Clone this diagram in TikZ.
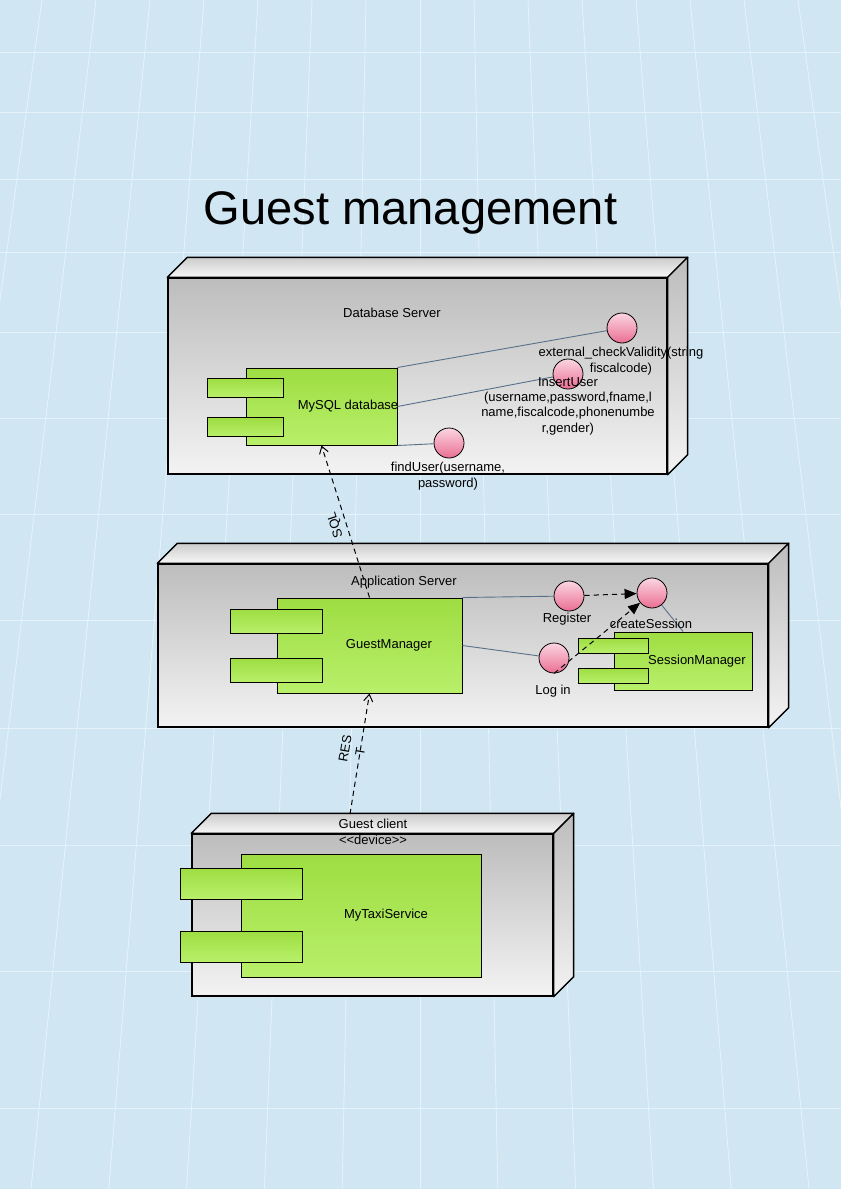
\documentclass[tikz,border=0pt]{standalone}
\usepackage{fontspec}
\setmainfont{Liberation Sans}
\usetikzlibrary{arrows.meta}

\definecolor{paper}{RGB}{208,230,242}
\definecolor{gridcol}{RGB}{230,242,249}
\definecolor{facedark}{RGB}{189,189,189}
\definecolor{facelight}{RGB}{243,243,243}
\definecolor{greentop}{RGB}{158,221,66}
\definecolor{greenbot}{RGB}{184,240,106}
\definecolor{pinktop}{RGB}{251,214,226}
\definecolor{pinkbot}{RGB}{234,110,148}
\definecolor{wirecol}{RGB}{88,112,138}

\newcommand{\boxfaces}[1]{%
  \path[topface] (#1.north west) -- ++(20,-20) -- ([shift={(20,-20)}]#1.north east) -- (#1.north east) -- cycle;
  \path[sideface] (#1.north east) -- ([shift={(20,-20)}]#1.north east) -- ([shift={(20,-20)}]#1.south east) -- (#1.south east) -- cycle;
}

\begin{document}
\begin{tikzpicture}[x=0.05cm, y=-0.05cm,
  gridline/.style={draw=gridcol, line width=0.45mm},
  server/.style={draw, line width=0.7mm, top color=facedark, bottom color=facelight, inner sep=0pt},
  topface/.style={draw, line width=0.7mm, line join=round, top color=gray!40, bottom color=gray!6},
  sideface/.style={draw, line width=0.7mm, line join=round, top color=facedark, bottom color=facelight},
  component/.style={draw, line width=0.5mm, top color=greentop, bottom color=greenbot, inner sep=0pt},
  iface/.style={draw, circle, line width=0.4mm, top color=pinktop, bottom color=pinkbot, minimum size=15mm, inner sep=0pt},
  txt/.style={font=\fontsize{18.5}{21.8}\selectfont, inner sep=0pt, align=center},
  wire/.style={draw=wirecol, line width=0.45mm},
  depend/.style={line width=0.5mm, dash pattern=on 2.6mm off 2mm, -{Straight Barb[length=3.5mm,width=4.5mm]}},
  invoke/.style={line width=0.5mm, dash pattern=on 2.6mm off 2mm, -{Triangle[length=6mm,width=5mm]}}
  ]
	\useasboundingbox (0,0) rectangle (841,1189);
	\fill[paper] (0,0) rectangle (841,1189);
	\begin{scope}
		\clip (0,0) rectangle (841,1189);
		\foreach \gy in {52,112,179,252,332,418,514,620,728,845,971,1108}
			\draw[gridline] (0,\gy) -- (841,\gy);
		\foreach \k in {-8,...,8}
			\draw[gridline] ({420+54*\k},0) -- ({420+77.8*\k},1189);
	\end{scope}

	\node[font=\fontsize{67}{80}\selectfont, anchor=base] (title) at (410.5,224) {Guest management};

	\node[server, minimum width=249.5mm, minimum height=98mm] (db) at (417.5,376) {};
	\boxfaces{db}
	\node[server, minimum width=305mm, minimum height=81.5mm] (app) at (463,645.5) {};
	\boxfaces{app}
	\node[server, minimum width=180.5mm, minimum height=81mm] (gc) at (372.5,915) {};
	\boxfaces{gc}

	\node[txt] (dblbl) at (392,313) {Database Server};
	\node[txt] (applbl) at (404,582) {Application Server};
	\node[txt] (gclbl) at (373,832) {Guest client\\<{}<device>{}>};

	\node[component, minimum width=75.5mm, minimum height=38.5mm,
	  label={[txt, xshift=13.25mm]center:MySQL database}] (mysql) at (321.5,406.5) {};
	\node[component, minimum width=38mm, minimum height=9.5mm] (mysqlp1) at (245,387.5) {};
	\node[component, minimum width=38mm, minimum height=9.5mm] (mysqlp2) at (245,427) {};

	\node[component, minimum width=92.5mm, minimum height=47.5mm,
	  label={[txt, xshift=9.75mm]center:GuestManager}] (gm) at (369.5,645.5) {};
	\node[component, minimum width=46mm, minimum height=12mm] (gmp1) at (276.5,621) {};
	\node[component, minimum width=46mm, minimum height=12mm] (gmp2) at (276.5,670) {};

	\node[component, minimum width=69mm, minimum height=29mm,
	  label={[txt, xshift=7mm]center:SessionManager}] (sm) at (683,661) {};
	\node[component, minimum width=35mm, minimum height=7.5mm] (smp1) at (613.5,645.5) {};
	\node[component, minimum width=35mm, minimum height=7.5mm] (smp2) at (613.5,675.5) {};

	\node[component, minimum width=120.5mm, minimum height=61.5mm,
	  label={[txt, xshift=12.25mm]center:MyTaxiService}] (taxi) at (361.5,915.5) {};
	\node[component, minimum width=61mm, minimum height=15.5mm] (taxip1) at (241,883.5) {};
	\node[component, minimum width=61mm, minimum height=15.5mm] (taxip2) at (241,946.5) {};

	\node[iface] (ext) at (622,328) {};
	\node[iface] (ins) at (568,374) {};
	\node[iface] (find) at (449,443) {};
	\node[iface] (reg) at (569,596) {};
	\node[iface] (create) at (652,593) {};
	\node[iface] (login) at (554,658) {};

	\draw[wire] (mysql.north east) -- (ext);
	\draw[wire] (mysql.east) -- (ins);
	\draw[wire] (mysql.south east) -- (find);
	\draw[wire] (gm.north east) -- (reg);
	\draw[wire] (gm.east) -- (login);
	\draw[wire] (create) -- (sm.north);

	\node[txt] (extlbl) at (621,361) {external\_checkValidity(string\\fiscalcode)};
	\node[txt] (inslbl) at (568,406) {InsertUser\\(username,password,fname,l\\name,fiscalcode,phonenumbe\\r,gender)};
	\node[txt] (findlbl) at (448,476) {findUser(username,\\password)};
	\node[txt] (reglbl) at (567,619) {Register};
	\node[txt] (createlbl) at (651,624) {createSession};
	\node[txt] (loginlbl) at (553,691) {Log in};

	\draw[invoke] (reg) -- (create);
	\draw[invoke] (login.south) -- (create);

	\coordinate (gcback) at (350,814);
	\draw[depend] (gm.north) -- node[txt, pos=0.5, rotate=108, above, inner sep=2mm] (sqllbl) {SQL} (mysql.south);
	\draw[depend] (gcback) -- node[txt, pos=0.52, rotate=80, above=-2.5mm] (restlbl) {RES\\T} (gm.south);
\end{tikzpicture}
\end{document}
